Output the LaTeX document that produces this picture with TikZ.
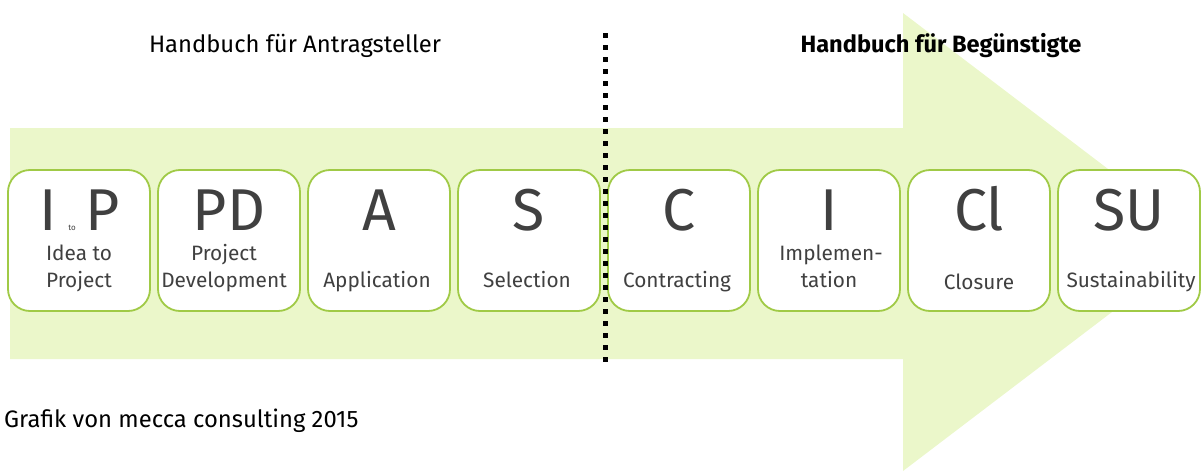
\documentclass[tikz,border=0pt]{standalone}
\usepackage{fontspec}
\setmainfont{Fira Sans}
\definecolor{arrowfill}{RGB}{235,247,202}
\definecolor{boxline}{RGB}{160,202,70}
\definecolor{txtgray}{RGB}{64,64,64}
\begin{document}
\begin{tikzpicture}[x=1pt,y=-1pt,
  stagebox/.style={draw=boxline,line width=1.8pt,fill=white,rounded corners=22pt,
    minimum width=142pt,minimum height=141pt,inner sep=0pt},
  bigletter/.style={anchor=base,text=txtgray,font=\fontsize{59}{59}\selectfont,inner sep=0pt},
  sublabel/.style={anchor=base,text=txtgray,font=\fontsize{20.8}{20.8}\selectfont,inner sep=0pt},
  header/.style={anchor=base,text=black,font=\fontsize{23.8}{23.8}\selectfont,inner sep=0pt},
  divider/.style={line width=5pt,dash pattern=on 5pt off 7pt}]
\useasboundingbox (0,0) rectangle (1201,471);
% big arrow
\fill[arrowfill] (10,128) -- (903,128) -- (903,13) -- (1204,242) -- (903,471) -- (903,359) -- (10,359) -- cycle;
% headers
\node[header] (h1) at (295,52) {Handbuch für Antragsteller};
\node[header,font=\fontsize{23.6}{23.6}\selectfont\bfseries] (h2) at (941,52) {Handbuch für Begünstigte};
\node[header,anchor=base west] (foot) at (4,427) {Grafik von mecca consulting 2015};
% boxes
\foreach \i/\cx in {1/79,2/229,3/379,4/529,5/679,6/829,7/979,8/1129}{
  \node[stagebox] (b\i) at (\cx,240.5) {};
}
% big letters
\node[bigletter] (l1a) at (48,230) {I};
\node[anchor=base,text=txtgray,font=\fontsize{8}{8}\selectfont,inner sep=0pt] (l1b) at (72,230) {to};
\node[bigletter] (l1c) at (103,230) {P};
\node[bigletter] (l2) at (229,230) {PD};
\node[bigletter] (l3) at (379,230) {A};
\node[bigletter] (l4) at (529,230) {S};
\node[bigletter] (l5) at (679,230) {C};
\node[bigletter] (l6) at (829,230) {I};
\node[bigletter] (l7) at (979,230) {Cl};
\node[bigletter] (l8) at (1129,230) {SU};
% sub labels
\node[sublabel] (s1a) at (79,260) {Idea to};
\node[sublabel] (s1b) at (79,287) {Project};
\node[sublabel] (s2a) at (224,260) {Project};
\node[sublabel] (s2b) at (224,287) {Development};
\node[sublabel] (s3) at (377,287) {Application};
\node[sublabel] (s4) at (527,287) {Selection};
\node[sublabel] (s5) at (677,287) {Contracting};
\node[sublabel] (s6a) at (831,260) {Implemen-};
\node[sublabel] (s6b) at (829,287) {tation};
\node[sublabel] (s7) at (979,289) {Closure};
\node[sublabel] (s8) at (1131,287) {Sustainability};
% divider
\coordinate (dtop) at (605,33);
\coordinate (dbot) at (605,362);
\draw[divider] (dtop) -- (dbot);
\end{tikzpicture}
\end{document}
